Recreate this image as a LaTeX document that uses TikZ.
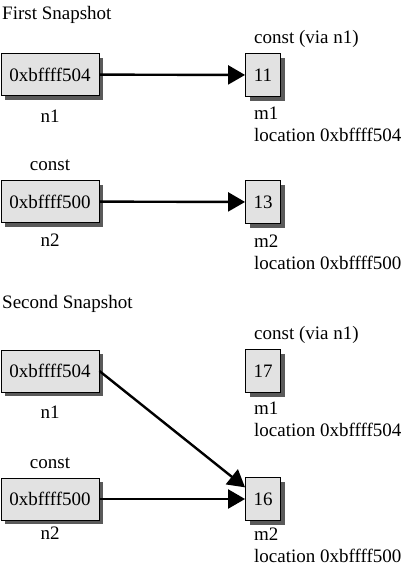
\documentclass[tikz,border=0pt]{standalone}
\usepackage{fontspec}
\setmainfont{Liberation Serif}
\usepackage{tikz}
\usetikzlibrary{arrows.meta,shadows}
\definecolor{cell}{HTML}{E2E2E2}
\definecolor{shade}{HTML}{5A5A5A}
\tikzset{
  >={Triangle[length=17pt,width=19pt]},
  every node/.style={font=\fontsize{19}{21.5}\selectfont},
  ptr/.style={draw=black,line width=0.9pt,fill=cell,minimum width=98pt,minimum height=42pt,inner sep=0pt,
    drop shadow={shadow xshift=4pt,shadow yshift=-4pt,fill=shade,opacity=1}},
  val/.style={ptr,minimum width=35pt,minimum height=43pt},
}
\begin{document}
\begin{tikzpicture}[x=1pt,y=-1pt,
  lab/.style={anchor=north west,align=left,inner sep=0pt},
  tag/.style={inner sep=0pt},
  link/.style={black,line width=2.4pt}]
  \useasboundingbox (0,0) rectangle (402,573);
  % first snapshot
  \node[tag,anchor=west] (t1) at (2,15) {First Snapshot};
  \node[ptr] (n1a) at (50,74.5) {0xbffff504};
  \node[val] (m1a) at (263,75) {11};
  \node[tag] (ln1a) at (50,116) {n1};
  \node[tag,anchor=west] (c1a) at (254,39) {const (via n1)};
  \node[lab] (lm1a) at (254,107) {m1\\location 0xbffff504};
  \node[tag] (c2a) at (50,165) {const};
  \node[ptr] (n2a) at (50,201.5) {0xbffff500};
  \node[val] (m2a) at (263,202) {13};
  \node[tag] (ln2a) at (50,240) {n2};
  \node[lab] (lm2a) at (254,235) {m2\\location 0xbffff500};
  \draw[link,->] (n1a) -- (m1a);
  \draw[link,->] (n2a) -- (m2a);
  % second snapshot
  \node[tag,anchor=west] (t2) at (2,304) {Second Snapshot};
  \node[tag,anchor=west] (c1b) at (254,335) {const (via n1)};
  \node[ptr] (n1b) at (50,371) {0xbffff504};
  \node[val] (m1b) at (263,371) {17};
  \node[tag] (ln1b) at (50,412) {n1};
  \node[lab] (lm1b) at (254,402) {m1\\location 0xbffff504};
  \node[tag] (c2b) at (50,463) {const};
  \node[ptr] (n2b) at (50,499) {0xbffff500};
  \node[val] (m2b) at (263,499) {16};
  \node[tag] (ln2b) at (50,533) {n2};
  \node[lab] (lm2b) at (254,528) {m2\\location 0xbffff500};
  \draw[link,->] (n1b.east) -- (m2b.147);
  \draw[link,->] (n2b) -- (m2b);
\end{tikzpicture}
\end{document}
